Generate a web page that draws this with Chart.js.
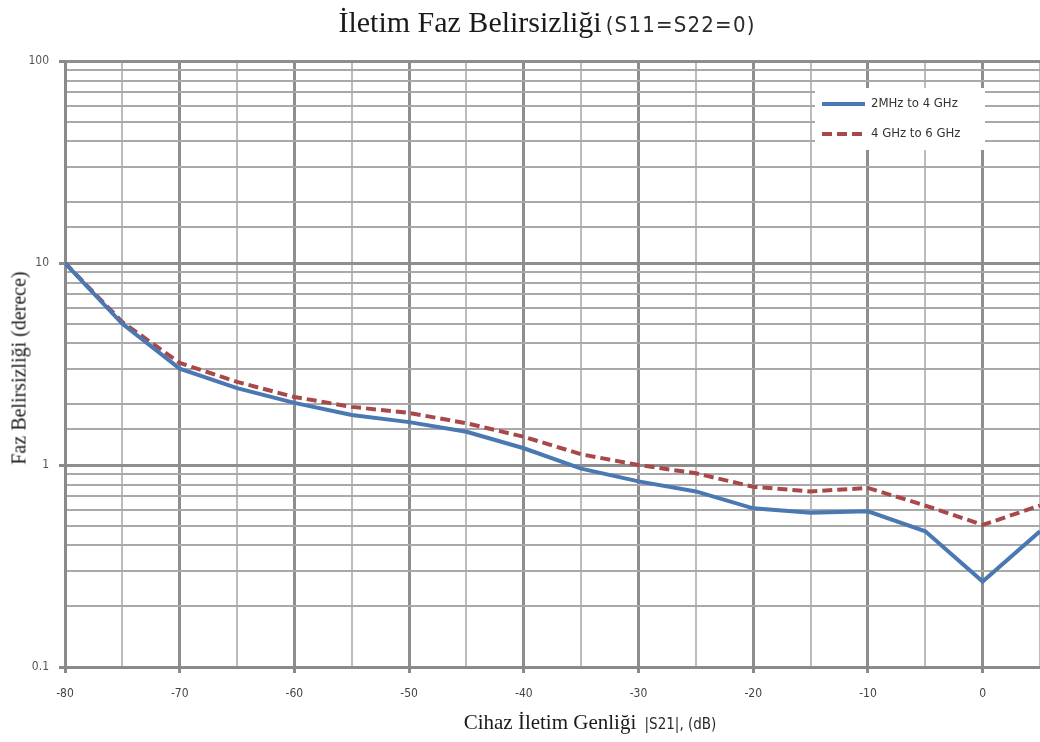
<!DOCTYPE html>
<html>
<head>
<meta charset="utf-8">
<script src="https://cdn.jsdelivr.net/npm/chart.js@4.4.1/dist/chart.umd.min.js"></script>
<style>
  html, body { margin: 0; padding: 0; background: #fff; }
  #wrap { position: relative; width: 1040px; height: 742px; overflow: hidden; }
  #chart { position: absolute; left: 0; top: 0; }
  .serif { font-family: "Liberation Serif", "DejaVu Serif", serif; color: #1a1a1a; }
  .cond { font-family: "DejaVu Sans Condensed", "Liberation Sans Narrow", "DejaVu Sans", sans-serif; color: #2a2a2a; }
  #title { position: absolute; left: 0; width: 1094px; top: 4px; text-align: center; white-space: nowrap; line-height: 36px; }
  #title .serif { font-size: 30px; }
  #title .cond { font-size: 22px; letter-spacing: 1.2px; }
  #xtitle { position: absolute; left: 0; width: 1180px; top: 708px; text-align: center; white-space: nowrap; line-height: 28px; }
  #xtitle .serif { font-size: 21px; }
  #xtitle .cond { font-size: 15px; }
  #ytitle { position: absolute; left: 19px; top: 368px; transform: translate(-50%, -50%) rotate(-90deg); white-space: nowrap; font-size: 20px; }
</style>
</head>
<body>
<div id="wrap">
  <canvas id="chart" width="1040" height="742"></canvas>
  <div id="title"><span class="serif">İletim Faz Belirsizliği</span> <span class="cond">(S11=S22=0)</span></div>
  <div id="xtitle"><span class="serif">Cihaz İletim Genliği</span> <span class="cond">&nbsp;|S21|, (dB)</span></div>
  <div id="ytitle" class="serif">Faz Belirsizliği (derece)</div>
</div>
<script>
// Transmission magnitude |S21| in dB
const amplitudeDb = [-80, -75, -70, -65, -60, -55, -50, -45, -40, -35, -30, -25, -20, -15, -10, -5, 0, 5];
// Phase uncertainty in degrees, 2 MHz to 4 GHz band
const band1Deg = [10, 5.0, 3.0, 2.4, 2.03, 1.77, 1.63, 1.46, 1.21, 0.96, 0.83, 0.74, 0.61, 0.58, 0.59, 0.47, 0.265, 0.47];
// Phase uncertainty in degrees, 4 GHz to 6 GHz band
const band2Deg = [10, 5.1, 3.2, 2.58, 2.17, 1.94, 1.81, 1.61, 1.38, 1.13, 1.0, 0.91, 0.78, 0.74, 0.77, 0.63, 0.505, 0.63];
const seriesNames = ['2MHz to 4 GHz', '4 GHz to 6 GHz'];
const yTickLabels = [0.1, 1, 10, 100];
const xTickLabels = [-80, -70, -60, -50, -40, -30, -20, -10, 0];

const toPoints = (ys) => amplitudeDb.map((x, i) => ({ x, y: ys[i] }));
const isDecade = (v) => yTickLabels.some(t => Math.abs(v - t) < 1e-9);
const isLabeledX = (v) => xTickLabels.includes(v);

const tickFont = { family: '"DejaVu Sans Condensed", "DejaVu Sans", sans-serif', size: 12 };

// Legend box drawn over the plot area
const legendBox = {
  id: 'legendBox',
  afterDraw(chart) {
    const ctx = chart.ctx;
    ctx.save();
    ctx.fillStyle = '#ffffff';
    ctx.fillRect(815, 88, 170, 62);
    chart.data.datasets.forEach((ds, i) => {
      const y = 104 + i * 30;
      ctx.strokeStyle = ds.borderColor;
      ctx.lineWidth = ds.borderWidth;
      ctx.setLineDash(ds.borderDash || []);
      ctx.beginPath();
      ctx.moveTo(822, y);
      ctx.lineTo(865, y);
      ctx.stroke();
      ctx.setLineDash([]);
      ctx.fillStyle = '#333';
      ctx.font = '13px "DejaVu Sans Condensed", "DejaVu Sans", sans-serif';
      ctx.textBaseline = 'middle';
      ctx.fillText(ds.label, 871, y);
    });
    ctx.restore();
  }
};

new Chart(document.getElementById('chart'), {
  type: 'line',
  data: {
    datasets: [
      { label: seriesNames[0], data: toPoints(band1Deg), borderColor: '#4a78b2', borderWidth: 4,
        pointRadius: 0, tension: 0, fill: false },
      { label: seriesNames[1], data: toPoints(band2Deg), borderColor: '#a8484a', borderWidth: 4,
        borderDash: [10, 5], pointRadius: 0, tension: 0, fill: false }
    ]
  },
  options: {
    responsive: false,
    animation: false,
    layout: { padding: { top: 61, right: 0, left: 0, bottom: 0 } },
    plugins: { legend: { display: false }, title: { display: false }, tooltip: { enabled: false } },
    scales: {
      x: {
        type: 'linear', min: -80, max: 5,
        border: { color: '#8a8a8a', width: 3 },
        grid: {
          color: (c) => (c.tick && isLabeledX(c.tick.value)) ? '#8e8e8e' : '#bcbcbc',
          lineWidth: (c) => (c.tick && isLabeledX(c.tick.value)) ? 3 : 2,
          tickColor: (c) => (c.tick && isLabeledX(c.tick.value)) ? '#8a8a8a' : 'rgba(0,0,0,0)',
          tickLength: 6, tickWidth: 3
        },
        ticks: {
          stepSize: 5, autoSkip: false, maxRotation: 0, padding: 14,
          color: '#444', font: tickFont,
          callback: (v) => isLabeledX(v) ? String(v) : ''
        },
        afterFit: (s) => { s.height = 75; s.paddingLeft = 0; s.paddingRight = 0; }
      },
      y: {
        type: 'logarithmic', min: 0.1, max: 100,
        border: { color: '#8a8a8a', width: 3 },
        grid: {
          color: (c) => (c.tick && isDecade(c.tick.value)) ? '#8e8e8e' : '#a9a9a9',
          lineWidth: (c) => (c.tick && isDecade(c.tick.value)) ? 3 : 2,
          tickColor: (c) => (c.tick && isDecade(c.tick.value)) ? '#8a8a8a' : 'rgba(0,0,0,0)',
          tickLength: 6, tickWidth: 3
        },
        ticks: {
          autoSkip: false, padding: 10, color: '#555', font: tickFont,
          callback: (v) => isDecade(v) ? String(v) : ''
        },
        afterFit: (s) => { s.width = 65; }
      }
    }
  },
  plugins: [legendBox]
});
</script>
</body>
</html>
